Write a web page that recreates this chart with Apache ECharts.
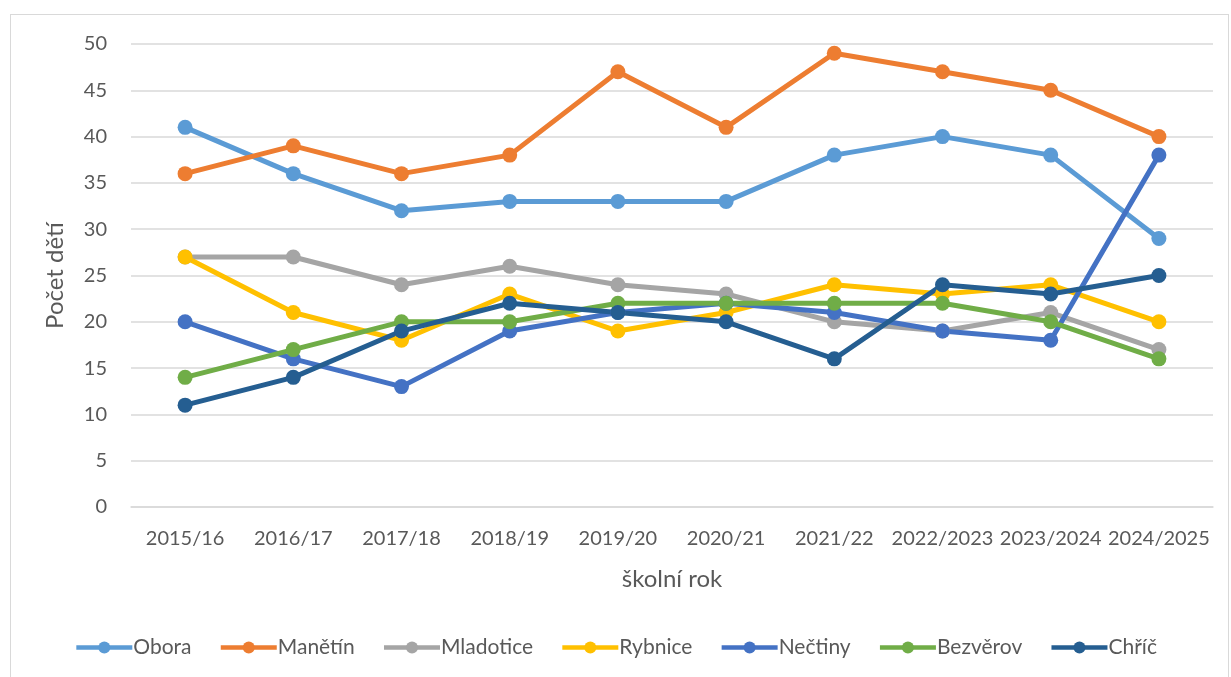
<!DOCTYPE html>
<html><head><meta charset="utf-8">
<script src="https://cdn.jsdelivr.net/npm/echarts@6/dist/echarts.min.js"></script>
<style>html,body{margin:0;padding:0;background:#fff;}#c{width:1231px;height:677px;}
#b{position:absolute;left:10px;top:14px;width:1219px;height:700px;border:1.5px solid #d9d9d9;box-sizing:border-box;pointer-events:none;}</style>
</head><body><div id="c"></div><div id="b"></div>
<script>
const categories = ['2015/16','2016/17','2017/18','2018/19','2019/20','2020/21','2021/22','2022/2023','2023/2024','2024/2025'];
const obora     = [41,36,32,33,33,33,38,40,38,29];
const manetin   = [36,39,36,38,47,41,49,47,45,40];
const mladotice = [27,27,24,26,24,23,20,19,21,17];
const rybnice   = [27,21,18,23,19,21,24,23,24,20];
const nectiny   = [20,16,13,19,21,22,21,19,18,38];
const bezverov  = [14,17,20,20,22,22,22,22,20,16];
const chric     = [11,14,19,22,21,20,16,24,23,25];
const seriesNames = ['Obora','Manětín','Mladotice','Rybnice','Nečtiny','Bezvěrov','Chříč'];
const seriesData = [obora,manetin,mladotice,rybnice,nectiny,bezverov,chric];
const colors = ['#5B9BD5','#ED7D31','#A5A5A5','#FFC000','#4472C4','#70AD47','#255E91'];
const font = 'Lato, "Open Sans", sans-serif';
const chart = echarts.init(document.getElementById('c'));
chart.setOption({
  animation:false,
  color:colors,
  grid:{left:131,right:18,top:44,bottom:170},
  legend:{bottom:14,left:'center',itemWidth:56,itemHeight:15,itemGap:27,
    lineStyle:{width:4.5},
    textStyle:{fontFamily:font,fontSize:21,color:'#595959',padding:[0,0,0,-4]},
    data:seriesNames},
  xAxis:{type:'category',data:categories,boundaryGap:true,
    name:'školní rok',nameLocation:'middle',nameGap:60,
    nameTextStyle:{fontFamily:font,fontSize:24,color:'#595959'},
    axisLine:{show:true,lineStyle:{color:'#d9d9d9',width:1.5}},axisTick:{show:false},
    axisLabel:{fontFamily:font,fontSize:20,color:'#595959',margin:22,interval:0}},
  yAxis:{type:'value',min:0,max:50,interval:5,
    name:'Počet dětí',nameLocation:'middle',nameGap:64,nameRotate:90,
    nameTextStyle:{fontFamily:font,fontSize:24,color:'#595959'},
    axisLine:{show:false},axisTick:{show:false},
    axisLabel:{fontFamily:font,fontSize:20,color:'#595959',margin:24},
    splitLine:{lineStyle:{color:'#d9d9d9',width:1.5}}},
  series:seriesNames.map((n,i)=>({name:n,type:'line',data:seriesData[i],
    symbol:'circle',symbolSize:15,lineStyle:{width:5},itemStyle:{color:colors[i]}}))
});
</script></body></html>
